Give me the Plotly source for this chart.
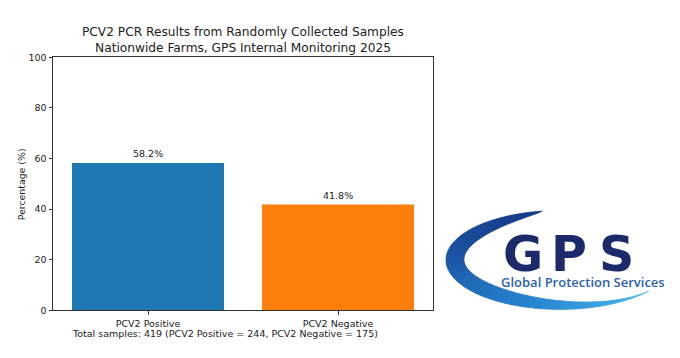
import math
import plotly.graph_objects as go

# ---- data ----
categories = ["PCV2 Positive", "PCV2 Negative"]
percentages = [58.2, 41.8]
counts = [244, 175]
total_samples = 419
bar_colors = ["#1f77b4", "#ff7f0e"]
y_ticks = [0, 20, 40, 60, 80, 100]
title_lines = ["PCV2 PCR Results from Randomly Collected Samples",
               "Nationwide Farms, GPS Internal Monitoring 2025"]
logo_letters = ["G", "P", "S"]
logo_tagline = "Global Protection Services"

W, H = 680, 358
PL, PR, PT, PB = 53, 433, 53, 314  # plot box in pixels

fig = go.Figure()

fig.add_trace(go.Bar(
    x=categories, y=percentages, width=0.8,
    marker=dict(color=bar_colors, line=dict(width=0)),
    xaxis="x", yaxis="y", showlegend=False, hoverinfo="skip",
))

annotations = []
for c, p in zip(categories, percentages):
    annotations.append(dict(x=c, y=p, xref="x", yref="y", text=f"{p:.1f}%",
                            showarrow=False, yanchor="bottom", yshift=2,
                            font=dict(size=9.5, color="#222")))

# ---- logo crescent (decoration) drawn on a pixel-space overlay axis ----
cx, cy, rx, ry = 560, 262, 114, 51
th1, th2, thmid, tmax = 99.0, 321.0, 185.0, 18.0

def thick(th):
    if th <= thmid:
        v = math.sin(math.pi / 2 * (th - th1) / (thmid - th1))
        return tmax * max(v, 0) ** 0.75
    v = math.sin(math.pi / 2 * (th2 - th) / (th2 - thmid))
    return tmax * max(v, 0) ** 1.2

stops = [(99, (22, 55, 135)), (180, (26, 84, 165)), (250, (36, 128, 205)), (321, (75, 185, 238))]

def col(th):
    for (a, ca), (b, cb) in zip(stops[:-1], stops[1:]):
        if a <= th <= b:
            f = (th - a) / (b - a)
            r = [round(ca[i] + (cb[i] - ca[i]) * f) for i in range(3)]
            return f"rgb({r[0]},{r[1]},{r[2]})"
    return "rgb(75,185,238)"

def pt(th, off):
    a = math.radians(th)
    return cx + (rx - off) * math.cos(a), cy - (ry - off) * math.sin(a)

N = 70
for i in range(N):
    ta = th1 + (th2 - th1) * i / N
    tb = th1 + (th2 - th1) * (i + 1) / N
    o1 = pt(ta, 0); o2 = pt(tb, 0)
    i2 = pt(tb, thick(tb)); i1 = pt(ta, thick(ta))
    xs = [o1[0], o2[0], i2[0], i1[0], o1[0]]
    ys = [o1[1], o2[1], i2[1], i1[1], o1[1]]
    c = col((ta + tb) / 2)
    fig.add_trace(go.Scatter(x=xs, y=ys, mode="lines", fill="toself",
                             fillcolor=c, line=dict(color=c, width=0.8),
                             xaxis="x2", yaxis="y2", showlegend=False,
                             hoverinfo="skip"))

letter_x = [523, 569, 616]
for L, lx in zip(logo_letters, letter_x):
    annotations.append(dict(x=lx, y=256, xref="x2", yref="y2", text=f"<b>{L}</b>",
                            showarrow=False, xanchor="center", yanchor="middle",
                            font=dict(family="DejaVu Sans", size=49, color="#1c2a6c")))
annotations.append(dict(x=583, y=285, xref="x2", yref="y2", text=logo_tagline,
                        showarrow=False, xanchor="center", yanchor="middle",
                        font=dict(family="Open Sans", size=13, weight=600, color="#2d5fab")))

# ---- footnote, y title ----
annotations.append(dict(
    x=224.5 / W, y=1 - 338 / H, xref="paper", yref="paper",
    text=f"Total samples: {total_samples} ({categories[0]} = {counts[0]}, {categories[1]} = {counts[1]})",
    showarrow=False, xanchor="center", yanchor="middle",
    font=dict(size=9.5, color="#222")))
annotations.append(dict(x=21 / W, y=1 - 184 / H, xref="paper", yref="paper",
                        text="Percentage (%)", textangle=-90, showarrow=False,
                        xanchor="center", yanchor="middle",
                        font=dict(size=9.4, color="#222")))

fig.update_layout(
    width=W, height=H,
    margin=dict(l=0, r=0, t=0, b=0),
    paper_bgcolor="white", plot_bgcolor="rgba(0,0,0,0)",
    font=dict(family="DejaVu Sans", color="#222"),
    title=dict(text="<br>".join(title_lines), x=(PL + PR) / 2 / W, xanchor="center",
               y=1 - 36 / H, yanchor="middle",
               font=dict(size=12.2, color="#222")),
    xaxis=dict(domain=[PL / W, PR / W], range=[-0.5, 1.5], type="category",
               showline=True, mirror=True, linecolor="#333", linewidth=1,
               ticks="outside", ticklen=3.5, tickcolor="#333", ticklabelstandoff=1,
               showgrid=False, zeroline=False, tickfont=dict(size=9.5, color="#222"),
               anchor="y"),
    yaxis=dict(domain=[1 - PB / H, 1 - PT / H], range=[0, 100], tickvals=y_ticks,
               showline=True, mirror=True, linecolor="#333", linewidth=1,
               ticks="outside", ticklen=3.5, tickcolor="#333",
               showgrid=False, zeroline=False, tickfont=dict(size=9.5, color="#222"),
               anchor="x"),
    xaxis2=dict(domain=[0, 1], range=[0, W], visible=False, anchor="y2", fixedrange=True),
    yaxis2=dict(domain=[0, 1], range=[H, 0], visible=False, anchor="x2", fixedrange=True),
    annotations=annotations,
    showlegend=False,
)

fig.write_html("out.html", config={"displayModeBar": False},
               post_script="document.body.style.margin='0';document.body.style.padding='0';")
